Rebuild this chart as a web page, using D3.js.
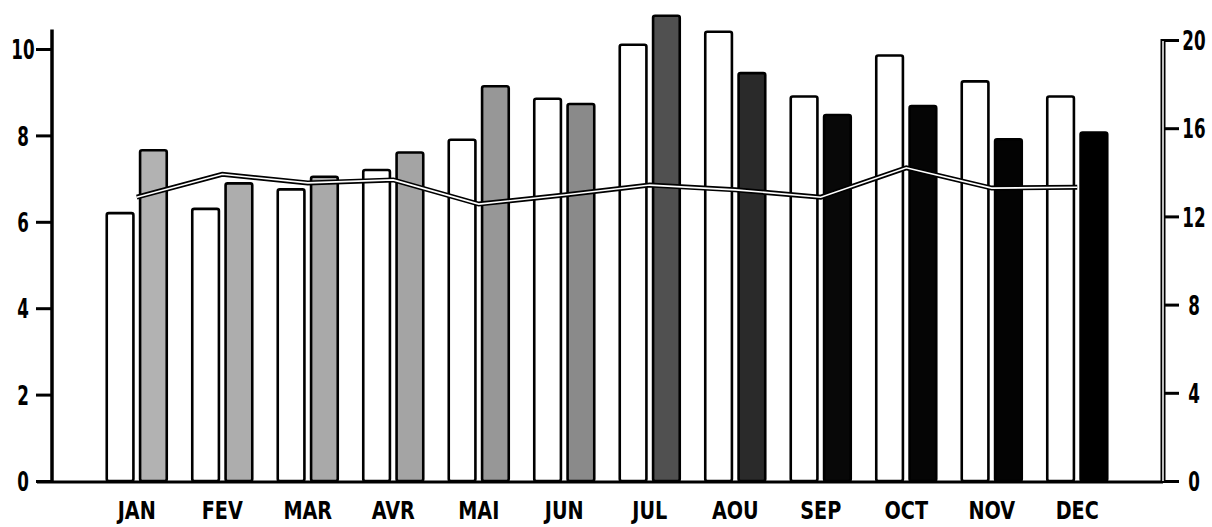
<!DOCTYPE html>
<html>
<head>
<meta charset="utf-8">
<script src="https://cdn.jsdelivr.net/npm/d3@7"></script>
<style>
  body { margin: 0; background: #fff; }
  svg text { font-family: "DejaVu Sans", sans-serif; font-weight: bold; fill: #000; }
</style>
</head>
<body>
<svg id="chart" width="1212" height="527"></svg>
<script>
// values
var months = ["JAN", "FEV", "MAR", "AVR", "MAI", "JUN", "JUL", "AOU", "SEP", "OCT", "NOV", "DEC"];
var whiteValues = [6.2, 6.3, 6.75, 7.2, 7.9, 8.85, 10.1, 10.4, 8.9, 9.85, 9.25, 8.9];       // left axis
var shadedValues = [15.0, 13.5, 13.8, 14.9, 17.9, 17.1, 21.1, 18.5, 16.6, 17.0, 15.5, 15.8]; // right axis
var lineValues = [6.57, 7.1, 6.9, 6.97, 6.41, 6.62, 6.85, 6.74, 6.57, 7.25, 6.78, 6.8];    // left axis
var leftTicks = [0, 2, 4, 6, 8, 10];
var rightTicks = [0, 4, 8, 12, 16, 20];

var svg = d3.select("#chart");

var leftX = 52, rightX = 1163, baseY = 481;

var x = d3.scaleBand().domain(months).range([94, 1120]);
var xSub = d3.scaleBand().domain(["w", "s"]).range([0, 60]).paddingInner(0.2);
var offset = (x.bandwidth() - 60) / 2;

var yL = d3.scaleLinear().domain([0, 10]).range([baseY, 49]);
var yR = d3.scaleLinear().domain([0, 20]).range([baseY, 40]);

// shade of the second bar gets darker through the year
var shade = d3.scaleLinear()
    .domain([0, 3, 5, 6, 7, 8, 11])
    .range(["#b2b2b2", "#a4a4a4", "#8a8a8a", "#505050", "#2a2a2a", "#080808", "#000"]);

var rows = months.map(function(m, i) {
    return { month: m, i: i, w: whiteValues[i], s: shadedValues[i], l: lineValues[i] };
});

// bars
var bars = svg.append("g").attr("class", "bars");

bars.selectAll("rect.white")
    .data(rows)
    .enter()
    .append("rect")
    .attr("class", "white")
    .attr("x", function(d) { return x(d.month) + offset + xSub("w"); })
    .attr("y", function(d) { return yL(d.w); })
    .attr("width", xSub.bandwidth())
    .attr("height", function(d) { return baseY - yL(d.w); })
    .attr("rx", 2)
    .attr("fill", "#fff")
    .attr("stroke", "#000")
    .attr("stroke-width", 2.6);

bars.selectAll("rect.shaded")
    .data(rows)
    .enter()
    .append("rect")
    .attr("class", "shaded")
    .attr("x", function(d) { return x(d.month) + offset + xSub("s"); })
    .attr("y", function(d) { return yR(d.s); })
    .attr("width", xSub.bandwidth())
    .attr("height", function(d) { return baseY - yR(d.s); })
    .attr("rx", 2)
    .attr("fill", function(d) { return shade(d.i); })
    .attr("stroke", "#000")
    .attr("stroke-width", 2.6);

// double line
var line = d3.line()
    .x(function(d) { return x(d.month) + x.bandwidth() / 2; })
    .y(function(d) { return yL(d.l); });

svg.append("path")
    .datum(rows)
    .attr("d", line)
    .attr("fill", "none")
    .attr("stroke", "#000")
    .attr("stroke-width", 5);

svg.append("path")
    .datum(rows)
    .attr("d", line)
    .attr("fill", "none")
    .attr("stroke", "#fff")
    .attr("stroke-width", 1.6);

// baseline
svg.append("line")
    .attr("x1", 37).attr("x2", rightX)
    .attr("y1", baseY + 1).attr("y2", baseY + 1)
    .attr("stroke", "#000")
    .attr("stroke-width", 3);

// left axis
var leftAxis = svg.append("g")
    .attr("transform", "translate(" + leftX + ",0)")
    .call(d3.axisLeft(yL).tickValues(leftTicks).tickSize(16).tickPadding(0));
leftAxis.select(".domain").remove();
leftAxis.selectAll(".tick line").attr("stroke", "#000").attr("stroke-width", 3);
leftAxis.selectAll(".tick text")
    .attr("x", 0)
    .attr("dy", "0.36em")
    .attr("text-anchor", "middle")
    .attr("font-size", 27)
    .attr("transform", "translate(-29,0) scale(0.62,1)");

leftAxis.append("line")
    .attr("x1", 0).attr("x2", 0)
    .attr("y1", yL(0) + 1).attr("y2", yL(10.45))
    .attr("stroke", "#000")
    .attr("stroke-width", 3.5);

// right axis (outlined double rule)
var rightAxis = svg.append("g")
    .attr("transform", "translate(" + rightX + ",0)")
    .call(d3.axisRight(yR).tickValues(rightTicks).tickSize(16).tickPadding(0));
rightAxis.select(".domain").remove();
rightAxis.selectAll(".tick line").attr("stroke", "#000").attr("stroke-width", 3);
rightAxis.selectAll(".tick text")
    .attr("x", 0)
    .attr("dy", "0.36em")
    .attr("text-anchor", "middle")
    .attr("font-size", 27)
    .attr("transform", "translate(31,0) scale(0.62,1)");

rightAxis.append("line")
    .attr("x1", 0).attr("x2", 0)
    .attr("y1", yR(0) + 2).attr("y2", yR(20) - 1)
    .attr("stroke", "#000")
    .attr("stroke-width", 5);
rightAxis.append("line")
    .attr("x1", 0).attr("x2", 0)
    .attr("y1", yR(0)).attr("y2", yR(20) + 1)
    .attr("stroke", "#fff")
    .attr("stroke-width", 1.5);

// month labels
var bottomAxis = svg.append("g")
    .attr("transform", "translate(0," + (baseY + 1) + ")")
    .call(d3.axisBottom(x).tickSize(0).tickPadding(0));
bottomAxis.select(".domain").remove();
bottomAxis.selectAll(".tick text")
    .attr("y", 0)
    .attr("dy", 0)
    .attr("font-size", 24)
    .attr("transform", "translate(0,37) scale(0.8,1)");
</script>
</body>
</html>
